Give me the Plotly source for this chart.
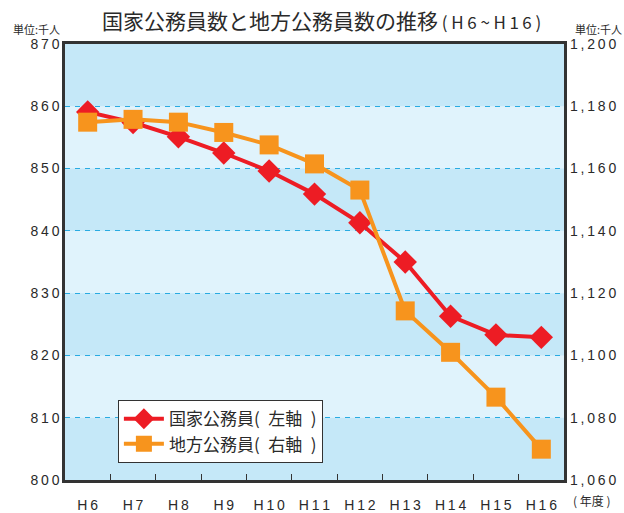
import plotly.graph_objects as go

years = ["H6", "H7", "H8", "H9", "H10", "H11", "H12", "H13", "H14", "H15", "H16"]
national = [859.1, 857.4, 855.1, 852.5, 849.6, 845.9, 841.3, 835.0, 826.3, 823.3, 822.9]
local = [1174.9, 1175.8, 1174.9, 1171.6, 1167.6, 1161.5, 1153.1, 1114.3, 1101.0, 1086.6, 1069.9]
left_ticks = [800, 810, 820, 830, 840, 850, 860, 870]
right_ticks = [1060, 1080, 1100, 1120, 1140, 1160, 1180, 1200]
dark_bands = [(860, 870), (840, 850), (820, 830), (800, 810)]

SP = "\u2009"
EN = "\u2002"


def spaced(s):
    return SP.join(list(s))


NUM_FONT = "Liberation Sans, Arial, sans-serif"
JP_FONT = "Noto Sans CJK JP, sans-serif"
RED = "#ED1C24"
ORANGE = "#F7941D"
GRID = "#29ABE2"
FRAME = "#333333"
TXT = "#2a2a2a"

fig = go.Figure()
fig.add_trace(go.Scatter(
    x=years, y=local, name="地方公務員(" + EN + "右軸" + EN + ")", mode="lines+markers",
    line=dict(color=ORANGE, width=4),
    marker=dict(symbol="square", size=19, color=ORANGE),
    yaxis="y2",
))
fig.add_trace(go.Scatter(
    x=years, y=national, name="国家公務員(" + EN + "左軸" + EN + ")", mode="lines+markers",
    line=dict(color=RED, width=4),
    marker=dict(symbol="diamond", size=18, color=RED),
    yaxis="y",
))

shapes = []
for lo, hi in dark_bands:
    shapes.append(dict(type="rect", xref="paper", yref="y", x0=0, x1=1, y0=lo, y1=hi,
                       fillcolor="#C5E8F8", line=dict(width=0), layer="below"))

fig.update_layout(
    width=624, height=513,
    margin=dict(l=65, r=60, t=44, b=33),
    paper_bgcolor="white",
    plot_bgcolor="#E0F3FC",
    shapes=shapes,
    showlegend=True,
    legend=dict(
        x=0.106, y=0.183, xanchor="left", yanchor="top",
        bgcolor="white", bordercolor=FRAME, borderwidth=1,
        font=dict(family=JP_FONT, size=17, color=TXT),
        traceorder="reversed", itemwidth=40,
    ),
    xaxis=dict(
        type="category", range=[-0.5, 10.5],
        tickmode="array", tickvals=years, ticktext=[spaced(y) for y in years],
        tickson="boundaries", ticks="inside", ticklen=6, tickcolor=FRAME, tickwidth=1,
        showgrid=False, showline=True, mirror=True, linecolor=FRAME, linewidth=2.5,
        tickfont=dict(family=NUM_FONT, size=14, color=TXT),
        ticklabelstandoff=10, automargin=False,
        fixedrange=True,
    ),
    yaxis=dict(
        range=[800, 870], tickmode="array", tickvals=left_ticks,
        ticktext=[spaced(str(v)) for v in left_ticks],
        showgrid=True, gridcolor=GRID, gridwidth=1, griddash="5px,5px",
        showline=True, mirror=True, linecolor=FRAME, linewidth=2.5,
        ticks="", tickfont=dict(family=NUM_FONT, size=14, color=TXT),
        zeroline=False, automargin=False,
    ),
    yaxis2=dict(
        range=[1060, 1200], overlaying="y", side="right", tickmode="array",
        tickvals=right_ticks, ticktext=[spaced(f"{v:,}") for v in right_ticks],
        showgrid=False, ticks="", zeroline=False, ticklabelstandoff=5, automargin=False,
        tickfont=dict(family=NUM_FONT, size=14, color=TXT),
    ),
)

fig.add_annotation(
    text="国家公務員数と地方公務員数の推移<span style='font-size:17px'> ( " + spaced("H6") + " ~ " + spaced("H16") + " )</span>",
    xref="paper", yref="paper", x=0.515, y=1, yshift=24, xanchor="center", yanchor="middle",
    showarrow=False, font=dict(family=JP_FONT, size=21, color=TXT),
)
fig.add_annotation(text="単位:千人", xref="paper", yref="paper", x=0, xshift=-29, y=1, yshift=15,
                   xanchor="center", yanchor="middle", showarrow=False,
                   font=dict(family=JP_FONT, size=11, color=TXT))
fig.add_annotation(text="単位:千人", xref="paper", yref="paper", x=1, xshift=34, y=1, yshift=15,
                   xanchor="center", yanchor="middle", showarrow=False,
                   font=dict(family=JP_FONT, size=11, color=TXT))
fig.add_annotation(text="( 年度 )", xref="paper", yref="paper", x=1, xshift=28, y=0, yshift=-20,
                   xanchor="center", yanchor="middle", showarrow=False,
                   font=dict(family=JP_FONT, size=12, color=TXT))

fig.write_html("out.html", config={"displayModeBar": False},
               post_script="document.body.style.margin='0';document.body.style.padding='0';")
